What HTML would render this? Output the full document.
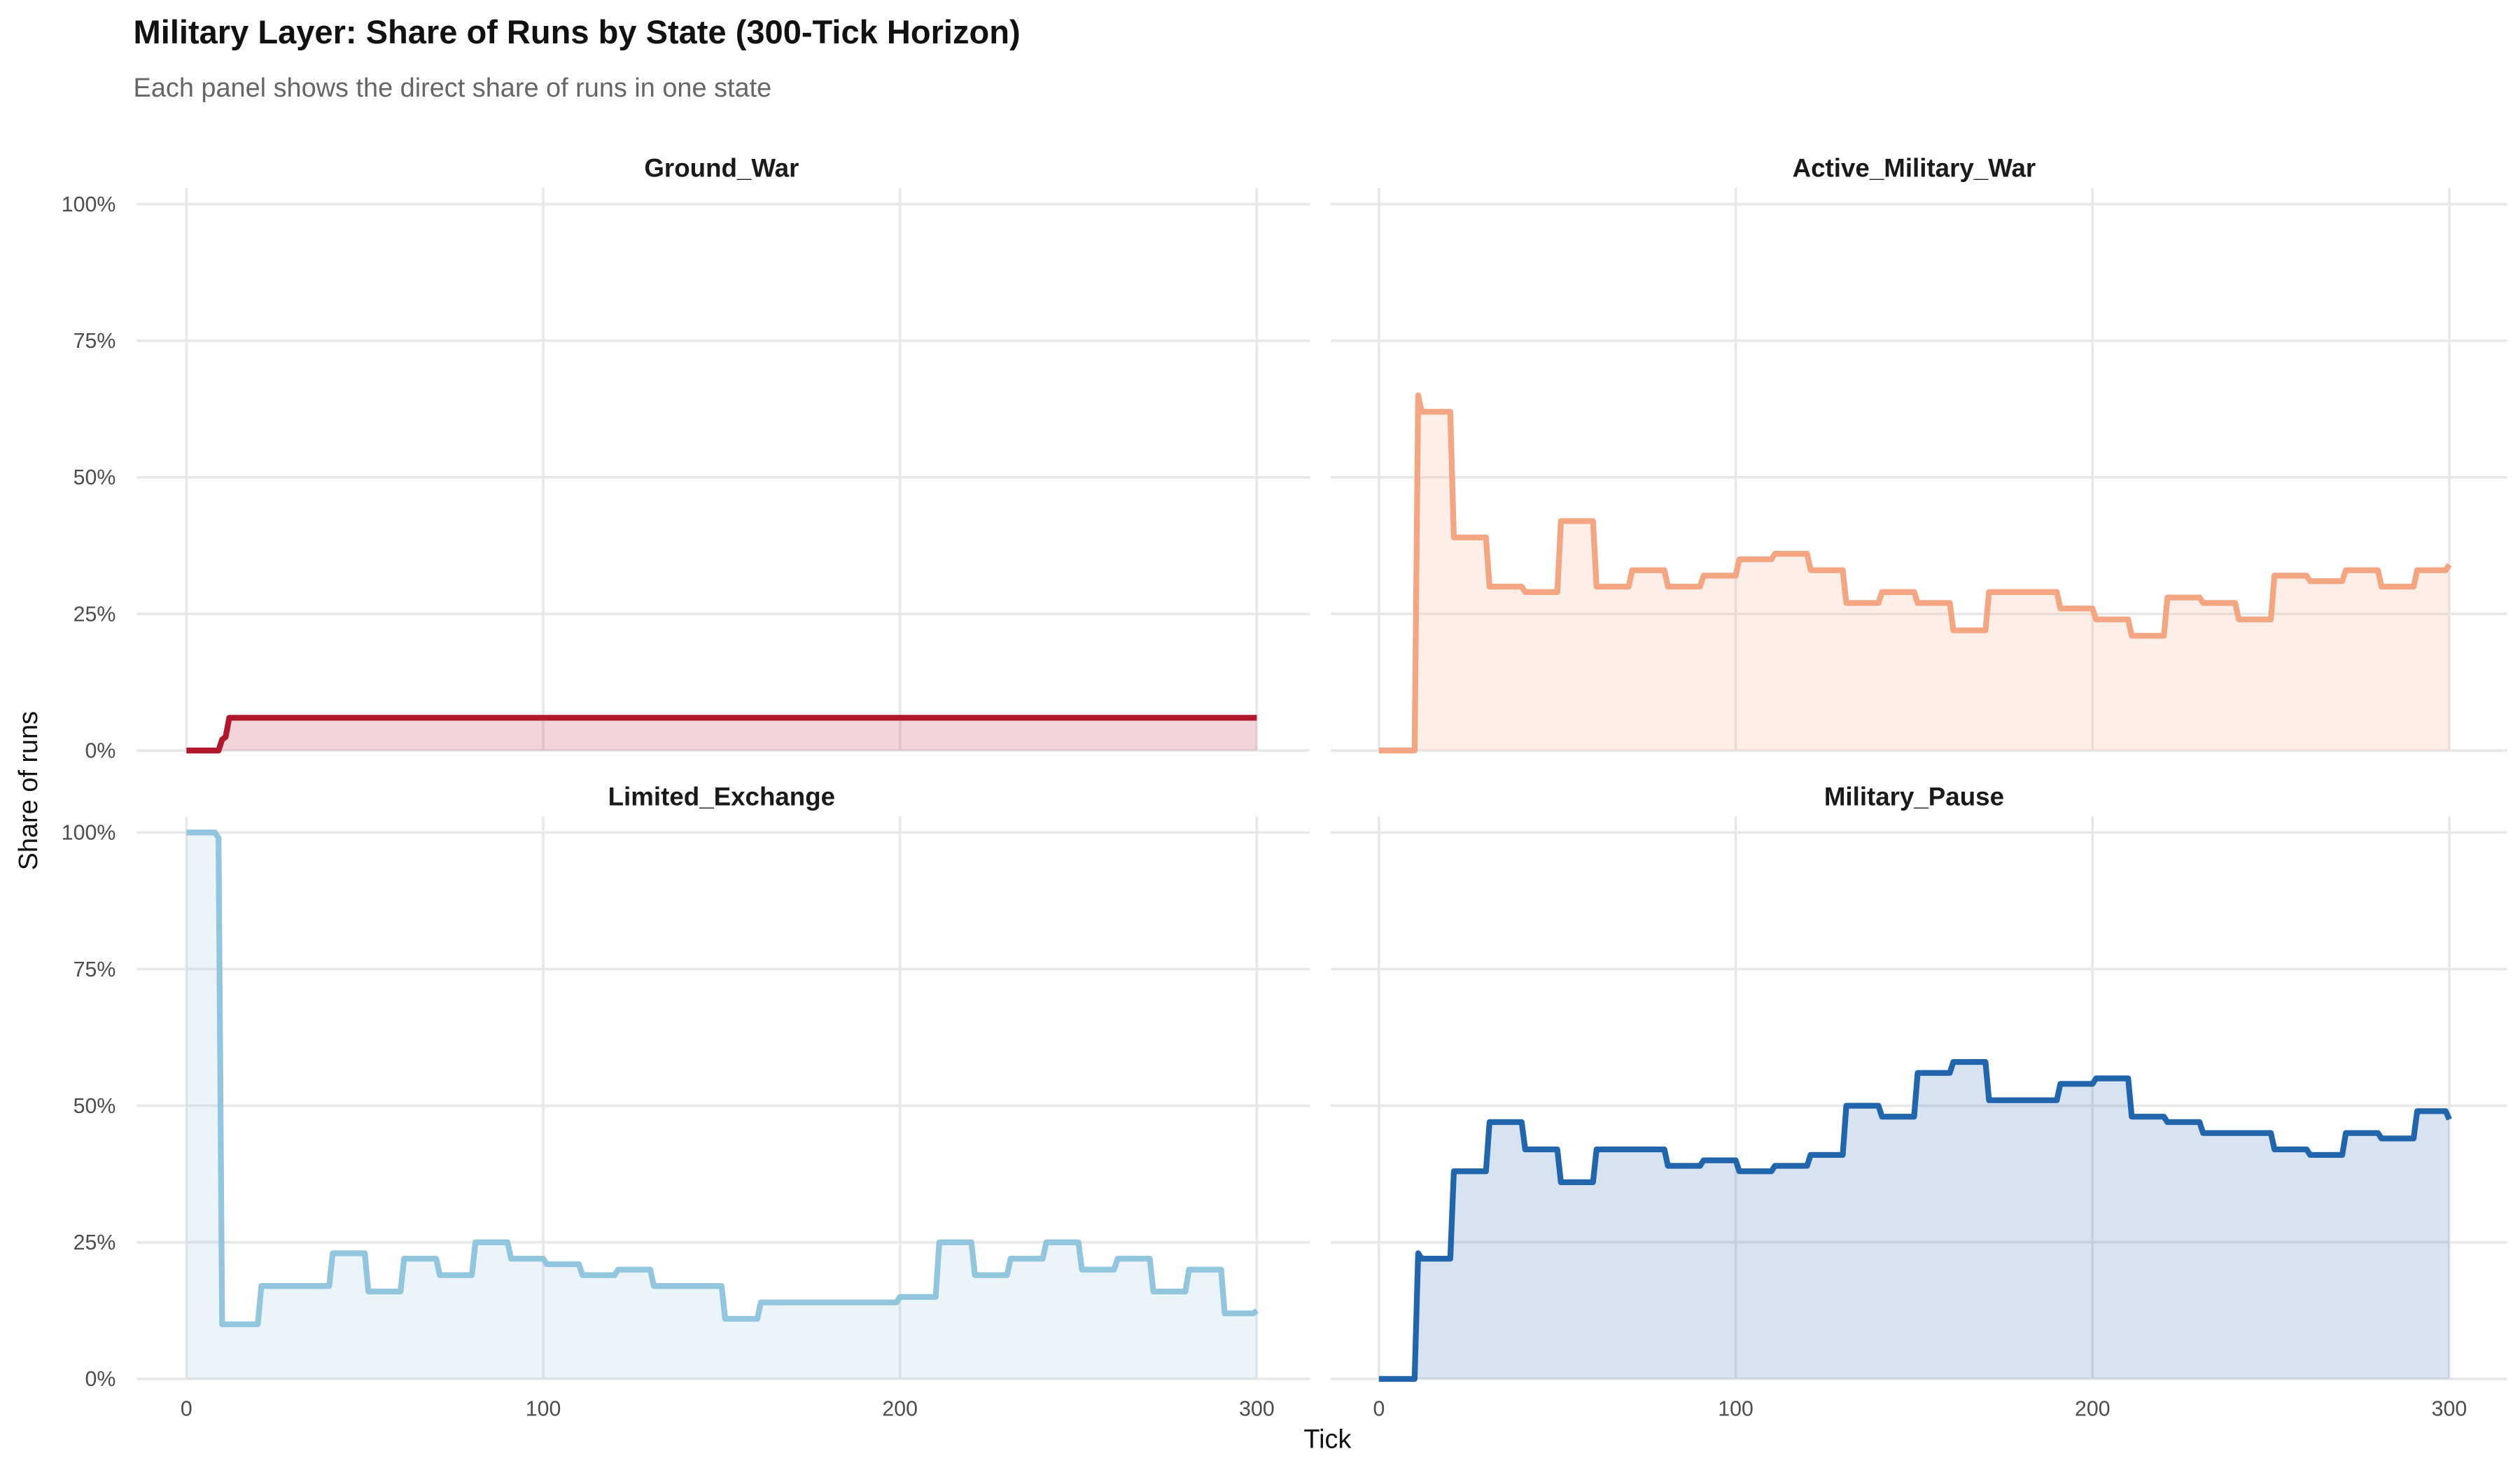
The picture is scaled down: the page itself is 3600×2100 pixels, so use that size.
<!DOCTYPE html>
<html><head><meta charset="utf-8"><style>
html,body{margin:0;padding:0;background:#fff;}
svg{display:block;}
text{font-family:"Liberation Sans",Arial,sans-serif;}
</style></head><body>
<svg id="s" width="3600" height="2100" viewBox="0 0 1568 914.67" xmlns="http://www.w3.org/2000/svg">
<rect width="1568" height="914.67" fill="#fff"/>
<text x="83" y="27" font-size="20.5" font-weight="bold" fill="#111">Military Layer: Share of Runs by State (300-Tick Horizon)</text>
<text x="83" y="60" font-size="16.5" fill="#666">Each panel shows the direct share of runs in one state</text>
<g id="grid"></g>
<g id="data"></g>
<g font-size="16" font-weight="bold" fill="#1a1a1a" text-anchor="middle">
<text x="449" y="110">Ground_War</text>
<text x="1191" y="110">Active_Military_War</text>
<text x="449" y="501">Limited_Exchange</text>
<text x="1191" y="501">Military_Pause</text>
</g>
<g id="labels" font-size="13.2" fill="#4d4d4d"></g>
<text x="826" y="901" font-size="16.5" text-anchor="middle" fill="#111">Tick</text>
<text transform="translate(23,492) rotate(-90)" font-size="16.5" text-anchor="middle" fill="#111">Share of runs</text>
</svg>
<script>
const NS="http://www.w3.org/2000/svg";
const grid=document.getElementById('grid'),data=document.getElementById('data'),labels=document.getElementById('labels');
function el(p,t,a,txt){const e=document.createElementNS(NS,t);for(const k in a)e.setAttribute(k,a[k]);if(txt!==undefined)e.textContent=txt;p.appendChild(e);return e;}
const panels=[
 {x0:116,y0:467,xl:85,xr:815,yt:117,name:'g',col:'#b2182b'},
 {x0:858,y0:467,xl:828,xr:1560,yt:117,name:'a',col:'#f4a582'},
 {x0:116,y0:858,xl:85,xr:815,yt:508,name:'l',col:'#92c5de'},
 {x0:858,y0:858,xl:828,xr:1560,yt:508,name:'p',col:'#2166ac'}];
const sx=2.22, sy=3.4;
panels.forEach((p,i)=>{
 for(let v=0;v<=100;v+=25){const y=p.y0-v*sy;el(grid,'line',{x1:p.xl,x2:p.xr,y1:y,y2:y,stroke:'#e8e8e8','stroke-width':1.6});}
 for(let t=0;t<=300;t+=100){const x=p.x0+t*sx;el(grid,'line',{x1:x,x2:x,y1:p.yt,y2:p.y0,stroke:'#e8e8e8','stroke-width':1.6});}
 if(i%2==0){for(let v=0;v<=100;v+=25){el(labels,'text',{x:72,y:p.y0-v*sy+4.5,'text-anchor':'end'},v+'%');}}
 if(i>=2){for(let t=0;t<=300;t+=100){el(labels,'text',{x:p.x0+t*sx,y:881,'text-anchor':'middle'},t);}}
});
function blocks(start,arr,endv){
 const pts=start.slice();
 arr.forEach(b=>{pts.push([b[0],b[2]]);pts.push([b[1],b[2]]);});
 if(endv!==undefined)pts.push([300,endv]);
 return pts;}
const series={
 g:[[0,0],[9,0],[10,2],[11,2.5],[12,6],[300,6]],
 a:blocks([[0,0],[10,0],[11,65]],[[12,20,62],[21,30,39],[31,40,30],[41,50,29],[51,60,42],[61,70,30],[71,80,33],[81,90,30],[91,100,32],[101,110,35],[111,120,36],[121,130,33],[131,140,27],[141,150,29],[151,160,27],[161,170,22],[171,190,29],[191,200,26],[201,210,24],[211,220,21],[221,230,28],[231,240,27],[241,250,24],[251,260,32],[261,270,31],[271,280,33],[281,290,30],[291,299,33]],34),
 l:blocks([[0,100],[8,100],[9,99]],[[10,20,10],[21,40,17],[41,50,23],[51,60,16],[61,70,22],[71,80,19],[81,90,25],[91,100,22],[101,110,21],[111,120,19],[121,130,20],[131,150,17],[151,160,11],[161,199,14],[200,210,15],[211,220,25],[221,230,19],[231,240,22],[241,250,25],[251,260,20],[261,270,22],[271,280,16],[281,290,20],[291,299,12]],12.5),
 p:blocks([[0,0],[10,0],[11,23]],[[12,20,22],[21,30,38],[31,40,47],[41,50,42],[51,60,36],[61,80,42],[81,90,39],[91,100,40],[101,110,38],[111,120,39],[121,130,41],[131,140,50],[141,150,48],[151,160,56],[161,170,58],[171,190,51],[191,200,54],[201,210,55],[211,220,48],[221,230,47],[231,250,45],[251,260,42],[261,270,41],[271,280,45],[281,290,44],[291,299,49]],47.5)
};
panels.forEach(p=>{
 const pts=series[p.name].map(q=>[p.x0+q[0]*sx,p.y0-q[1]*sy]);
 const line=pts.map((q,i)=>(i?'L':'M')+q[0].toFixed(2)+' '+q[1].toFixed(2)).join(' ');
 const area=line+' L'+pts[pts.length-1][0].toFixed(2)+' '+p.y0+' L'+pts[0][0].toFixed(2)+' '+p.y0+' Z';
 el(data,'path',{d:area,fill:p.col,'fill-opacity':0.18});
 el(data,'path',{d:line,fill:'none',stroke:p.col,'stroke-width':3.6,'stroke-linejoin':'round'});
});
</script>
</body></html>
